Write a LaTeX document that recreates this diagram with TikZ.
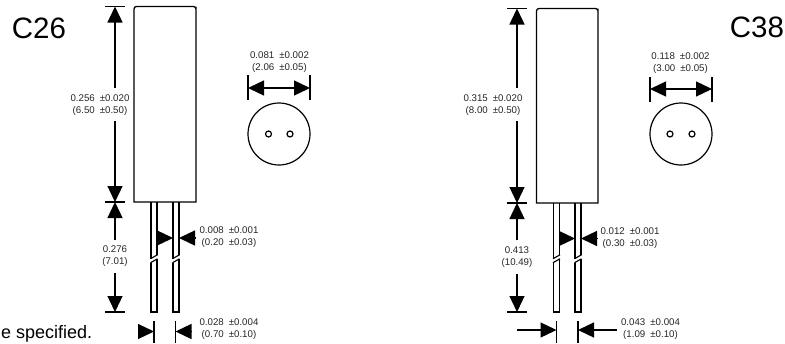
\documentclass[tikz,border=0pt]{standalone}
\usepackage{fontspec}
\setmainfont{Liberation Sans}
\usetikzlibrary{arrows.meta}
\tikzset{
  outline/.style={line width=1.3pt,line join=miter},
  thin outline/.style={line width=1.15pt},
  tick/.style={line width=1.3pt},
  dimline/.style={line width=1.3pt,-{Triangle[length=16pt,width=15pt]}},
  dimtext/.style={font=\fontsize{9.7}{12}\selectfont,align=center,inner sep=0pt,text=black!85},
  gaptext/.style={dimtext,minimum height=33pt},
  round view/.style={draw,circle,line width=1.2pt,inner sep=0pt},
  title/.style={font=\fontsize{29.5}{32}\selectfont,inner sep=0pt},
  note/.style={font=\fontsize{18}{20}\selectfont,inner sep=0pt,anchor=base west},
}
\newcommand{\plusminus}{\hspace{5pt}±}
\begin{document}
\begin{tikzpicture}[x=1pt,y=-1pt]
\useasboundingbox (0,0) rectangle (785,343);
% ---------- C26 ----------
\node[title] (c26) at (39,28.5) {C26};
\node[note] (spec) at (1,338) {e specified.};
\draw[outline] (134,202) -- (134,9) [rounded corners=2.5pt] -- (134,6.5) -- (196,6.5) -- (196,9) [sharp corners] -- (196,202) -- cycle;
% leads
\foreach \l/\r in {151/157,173/179}{
  \draw[thin outline] (\l,202) -- (\l,258.5) (\r,202) -- (\r,255);
  \draw[thin outline] (\l-0.5,258.7) -- (\r+0.5,254.8);
  \draw[thin outline] (\l-0.5,262.7) -- (\r+0.5,258.8);
  \draw[thin outline] (\l,262.5) -- (\l,312) -- (\r,312) -- (\r,259);
}
% overall dims
\coordinate (a1) at (115,6.5); \coordinate (a2) at (115,202); \coordinate (a3) at (115,312);
\draw[tick] (105,6.5) -- (125,6.5) (105,202) -- (125,202) (105,312) -- (125,312);
\node[gaptext] (d1) at (100,105) {0.256\plusminus0.020\\(6.50\plusminus0.50)};
\coordinate (d1c) at (115,88); \coordinate (d1d) at (115,121);
\draw[dimline] (d1c) -- (a1);
\draw[dimline] (d1d) -- (a2);
\node[gaptext] (d2) at (115,256.5) {0.276\\(7.01)};
\draw[dimline] (d2.north) -- (a2);
\draw[dimline] (d2.south) -- (a3);
% end view
\node[round view,minimum size=62pt] (e1) at (279,134) {};
\node[round view,minimum size=6pt] (h1) at (268.5,134) {};
\node[round view,minimum size=6pt] (h2) at (290,134) {};
\node[dimtext] (d3) at (279.5,62) {0.081\plusminus0.002\\(2.06\plusminus0.05)};
\draw[tick] (248,75) -- (248,100) (310,75) -- (310,100);
\coordinate (b1) at (248,88); \coordinate (b2) at (310,88); \coordinate (bm) at (279,88);
\draw[dimline] (bm) -- (b1);
\draw[dimline] (bm) -- (b2);
% lead thickness
\node[dimtext] (d4) at (229,237) {0.008\plusminus0.001\\(0.20\plusminus0.03)};
\coordinate (c1) at (157,238); \coordinate (c2) at (173,238); \coordinate (c3) at (195,238); \coordinate (c4) at (179,238);
\draw[dimline] (c1) -- (c2);
\draw[dimline] (c3) -- (c4);
% lead spacing
\node[dimtext] (d5) at (229,329.5) {0.028\plusminus0.004\\(0.70\plusminus0.10)};
\draw[tick] (154,321) -- (154,343) (175.5,321) -- (175.5,343);
\coordinate (f1) at (138,331.5); \coordinate (f2) at (154,331.5); \coordinate (f3) at (191.5,331.5); \coordinate (f4) at (175.5,331.5);
\draw[dimline] (f1) -- (f2);
\draw[dimline] (f3) -- (f4);
% ---------- C38 ----------
\node[title] (c38) at (757,27.5) {C38};
\draw[outline] (536.5,203) -- (536.5,11) [rounded corners=2.5pt] -- (536.5,8.5) -- (598,8.5) -- (598,11) [sharp corners] -- (598,203) -- cycle;
\foreach \l/\r in {553.5/559.5,575/581}{
  \draw[thin outline] (\l,203) -- (\l,258.5) (\r,203) -- (\r,255);
  \draw[thin outline] (\l-0.5,258.7) -- (\r+0.5,254.8);
  \draw[thin outline] (\l-0.5,262.7) -- (\r+0.5,258.8);
  \draw[thin outline] (\l,262.5) -- (\l,312) -- (\r,312) -- (\r,259);
}
\coordinate (g1) at (517,8.5); \coordinate (g2) at (517,203); \coordinate (g3) at (517,312);
\draw[tick] (507,8.5) -- (527,8.5) (507,203) -- (527,203) (507,312) -- (527,312);
\node[gaptext] (k1) at (493,105.5) {0.315\plusminus0.020\\(8.00\plusminus0.50)};
\coordinate (k1c) at (517,88); \coordinate (k1d) at (517,121);
\draw[dimline] (k1c) -- (g1);
\draw[dimline] (k1d) -- (g2);
\node[gaptext] (k2) at (517,257) {0.413\\(10.49)};
\draw[dimline] (k2.north) -- (g2);
\draw[dimline] (k2.south) -- (g3);
\node[round view,minimum size=62pt] (e2) at (681,134) {};
\node[round view,minimum size=6pt] (h3) at (670,134) {};
\node[round view,minimum size=6pt] (h4) at (692,134) {};
\node[dimtext] (k3) at (680.5,63) {0.118\plusminus0.002\\(3.00\plusminus0.05)};
\draw[tick] (650,77) -- (650,101.5) (712,77) -- (712,101.5);
\coordinate (m1) at (650,89); \coordinate (m2) at (712,89); \coordinate (mm) at (681,89);
\draw[dimline] (mm) -- (m1);
\draw[dimline] (mm) -- (m2);
\node[dimtext] (k4) at (630,238) {0.012\plusminus0.001\\(0.30\plusminus0.03)};
\coordinate (n1) at (559.5,238.5); \coordinate (n2) at (575,238.5); \coordinate (n3) at (597,238.5); \coordinate (n4) at (581,238.5);
\draw[dimline] (n1) -- (n2);
\draw[dimline] (n3) -- (n4);
\node[dimtext] (k5) at (650.5,329.5) {0.043\plusminus0.004\\(1.09\plusminus0.10)};
\draw[tick] (556.5,321) -- (556.5,343) (578,321) -- (578,343);
\coordinate (p1) at (517,330); \coordinate (p2) at (556.5,330); \coordinate (p3) at (616.5,330); \coordinate (p4) at (578,330);
\draw[dimline] (p1) -- (p2);
\draw[dimline] (p3) -- (p4);
\end{tikzpicture}
\end{document}
